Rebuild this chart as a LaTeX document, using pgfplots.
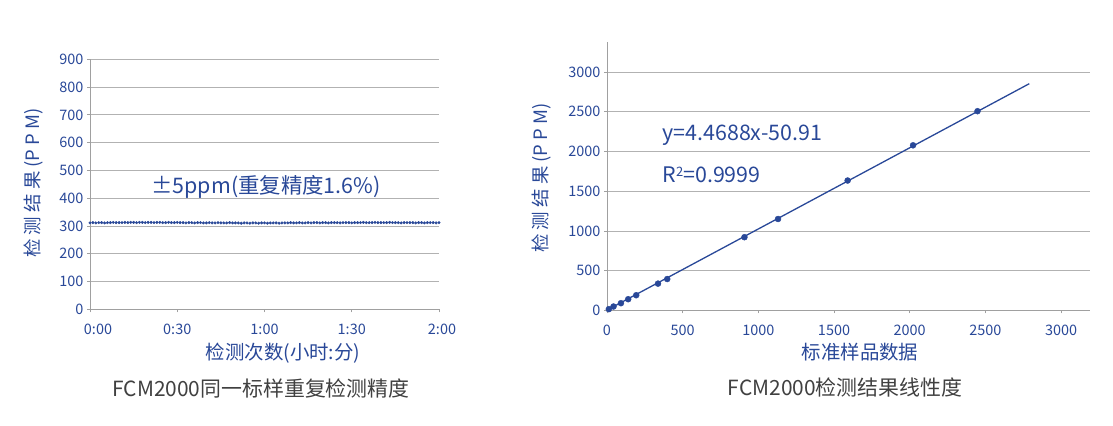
\documentclass[border=0pt]{standalone}
\usepackage{pgfplots}
\pgfplotsset{compat=1.18}
\usepackage{fontspec}
\setmainfont{Noto Sans CJK SC}
\definecolor{cblue}{RGB}{41,72,152}
\definecolor{cgrid}{RGB}{178,178,178}
\definecolor{caxis}{RGB}{160,160,160}
\definecolor{ctitle}{RGB}{64,64,64}
\pgfplotsset{
  myax/.style={
    scale only axis, anchor=south west,
    axis x line*=bottom, axis y line*=left,
    axis line style={caxis, line width=0.9bp},
    ymajorgrids, grid style={cgrid, line width=0.9bp},
    tick align=outside, major tick length=3bp,
    tick style={caxis, line width=0.8bp},
    ticklabel style={font=\fontsize{14.5}{16}\selectfont, text=cblue},
    xticklabel style={yshift=-8bp},
    /pgf/number format/assume math mode=true,
    /pgf/number format/set thousands separator={},
    clip=false,
  }
}
\begin{document}
\begin{tikzpicture}
\useasboundingbox (0bp,0bp) rectangle (1113bp,426bp);
% ---------- left chart ----------
\begin{axis}[myax, at={(90bp,116.7bp)}, width=349bp, height=250bp,
  xmin=0, xmax=120, ymin=0, ymax=900,
  xtick={0,30,60,90,120}, xticklabels={\hspace{16bp}0:00,0:30,1:00,1:30,\hspace{6bp}2:00},
  ytick={0,100,...,900}]
\addplot[only marks, mark=*, mark size=1.3bp, cblue] table {
x y
0 311
1 312
2 311
3 312
4 312
5 311
6 312
7 312
8 313
9 312
10 312
11 312
12 313
13 312
14 313
15 313
16 312
17 313
18 313
19 312
20 313
21 313
22 312
23 313
24 313
25 312
26 312
27 313
28 312
29 312
30 313
31 312
32 312
33 311
34 312
35 312
36 311
37 312
38 312
39 311
40 311
41 312
42 311
43 311
44 312
45 311
46 311
47 311
48 312
49 311
50 311
51 311
52 310
53 311
54 311
55 310
56 311
57 311
58 310
59 311
60 311
61 310
62 311
63 311
64 311
65 310
66 311
67 311
68 311
69 312
70 311
71 311
72 312
73 311
74 311
75 312
76 311
77 312
78 312
79 311
80 312
81 312
82 311
83 312
84 312
85 312
86 311
87 312
88 312
89 312
90 311
91 312
92 312
93 312
94 313
95 312
96 312
97 312
98 313
99 312
100 312
101 312
102 312
103 313
104 312
105 312
106 312
107 311
108 312
109 312
110 312
111 312
112 311
113 312
114 312
115 311
116 312
117 312
118 312
119 311
120 312
};
\end{axis}
% ---------- right chart ----------
\begin{axis}[myax, at={(607bp,115.5bp)}, width=482.8bp, height=268.3bp,
  xmin=0, xmax=3190, ymin=0, ymax=3375,
  xtick={0,500,...,3000}, ytick={0,500,...,3000}]
\addplot[cblue, line width=1.3bp] coordinates {(0,5) (2790,2853)};
\addplot[only marks, mark=*, mark size=3bp, cblue] coordinates {
(12,17) (43,50) (92,92) (140,142) (193,192) (337,338) (398,396)
(908,922) (1130,1151) (1590,1635) (2022,2078) (2448,2507)};
\end{axis}
% ---------- texts ----------
\node[cblue, font=\fontsize{21.5}{24}\selectfont] at (266bp,239.3bp) {±5ppm(重复精度1.6\%)};
\node[cblue, rotate=90, font=\fontsize{18.5}{20}\selectfont] at (33bp,243bp) {检 测 结 果 (P P M)};
\node[cblue, font=\fontsize{19.5}{22}\selectfont] at (283bp,73bp) {检测次数(小时:分)};
\node[ctitle, font=\fontsize{21}{23}\selectfont] at (261bp,38bp) {FCM2000同一标样重复检测精度};
\node[cblue, anchor=west, font=\fontsize{21.5}{24}\selectfont] at (659bp,290.3bp) {y=4.4688x-50.91};
\node[cblue, anchor=west, font=\fontsize{21.5}{24}\selectfont] at (659bp,251bp) {R{\fontsize{13}{14}\selectfont\raisebox{6bp}{2}}=0.9999};
\node[cblue, rotate=90, font=\fontsize{18.5}{20}\selectfont] at (541bp,248bp) {检 测 结 果 (P P M)};
\node[cblue, font=\fontsize{19.5}{22}\selectfont] at (860bp,74bp) {标准样品数据};
\node[ctitle, font=\fontsize{21}{23}\selectfont] at (845bp,39bp) {FCM2000检测结果线性度};
\end{tikzpicture}
\end{document}
